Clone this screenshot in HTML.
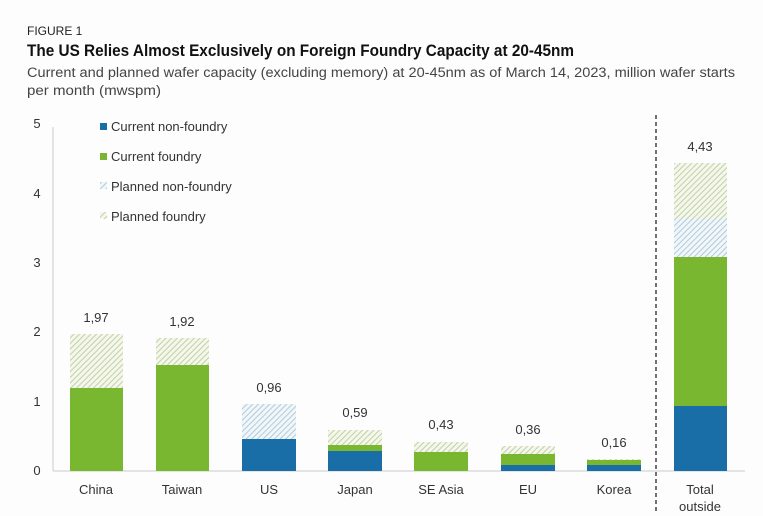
<!DOCTYPE html>
<html><head><meta charset="utf-8"><style>
body{margin:0;background:#fdfdfd;}
svg{display:block;font-family:"Liberation Sans",sans-serif;}
</style></head><body>
<svg width="763" height="516" viewBox="0 0 763 516">
<defs>
<pattern id="hg" width="4" height="4" patternUnits="userSpaceOnUse" patternTransform="rotate(45)">
<rect width="4" height="4" fill="#f4f7ec"/><line x1="0" y1="0" x2="0" y2="4" stroke="#bccb9c" stroke-width="1.8"/></pattern>
<pattern id="hb" width="4" height="4" patternUnits="userSpaceOnUse" patternTransform="rotate(45)">
<rect width="4" height="4" fill="#f1f6f9"/><line x1="0" y1="0" x2="0" y2="4" stroke="#a9c5d8" stroke-width="1.8"/></pattern>
</defs>
<rect width="763" height="516" fill="#fdfdfd"/>
<text x="27" y="35" font-size="12" fill="#222">FIGURE 1</text>
<text x="27" y="56" font-size="17" font-weight="bold" fill="#111" textLength="547" lengthAdjust="spacingAndGlyphs">The US Relies Almost Exclusively on Foreign Foundry Capacity at 20-45nm</text>
<text x="27" y="77" font-size="13.5" fill="#444" textLength="708" lengthAdjust="spacingAndGlyphs">Current and planned wafer capacity (excluding memory) at 20-45nm as of March 14, 2023, million wafer starts</text>
<text x="27" y="95" font-size="13.5" fill="#444" textLength="134" lengthAdjust="spacingAndGlyphs">per month (mwspm)</text>
<g font-size="13" fill="#333" text-anchor="middle">
<text x="37" y="128">5</text><text x="37" y="198">4</text><text x="37" y="267">3</text><text x="37" y="336">2</text><text x="37" y="406">1</text><text x="37" y="475">0</text>
</g>
<line x1="53" y1="127" x2="53" y2="471" stroke="#ccc"/>
<line x1="53" y1="471" x2="745" y2="471" stroke="#ccc"/>
<line x1="656" y1="115" x2="656" y2="514" stroke="#444" stroke-width="1.5" stroke-dasharray="4,3"/>
<g font-size="13" fill="#333">
<rect x="100" y="123" width="7" height="7" fill="#1a6ea8"/><text x="111" y="131">Current non-foundry</text>
<rect x="100" y="153" width="7" height="7" fill="#7ab730"/><text x="111" y="161">Current foundry</text>
<rect x="100" y="182" width="7" height="7" fill="url(#hb)"/><text x="111" y="191">Planned non-foundry</text>
<rect x="100" y="212" width="7" height="7" fill="url(#hg)"/><text x="111" y="221">Planned foundry</text>
</g>
<rect x="70" y="334" width="53" height="54" fill="url(#hg)"/><rect x="70" y="388" width="53" height="83" fill="#7ab730"/>
<rect x="156" y="338" width="53" height="27" fill="url(#hg)"/><rect x="156" y="365" width="53" height="106" fill="#7ab730"/>
<rect x="242" y="404" width="54" height="35" fill="url(#hb)"/><rect x="242" y="439" width="54" height="32" fill="#1a6ea8"/>
<rect x="328" y="430" width="54" height="15" fill="url(#hg)"/><rect x="328" y="445" width="54" height="6" fill="#7ab730"/><rect x="328" y="451" width="54" height="20" fill="#1a6ea8"/>
<rect x="414" y="442" width="54" height="10" fill="url(#hg)"/><rect x="414" y="452" width="54" height="19" fill="#7ab730"/>
<rect x="501" y="446" width="54" height="8" fill="url(#hg)"/><rect x="501" y="454" width="54" height="11" fill="#7ab730"/><rect x="501" y="465" width="54" height="6" fill="#1a6ea8"/>
<rect x="587" y="459" width="54" height="1.5" fill="url(#hg)"/><rect x="587" y="460" width="54" height="5" fill="#7ab730"/><rect x="587" y="465" width="54" height="6" fill="#1a6ea8"/>
<rect x="674" y="163" width="53" height="55" fill="url(#hg)"/><rect x="674" y="218" width="53" height="39" fill="url(#hb)"/><rect x="674" y="257" width="53" height="149" fill="#7ab730"/><rect x="674" y="406" width="53" height="65" fill="#1a6ea8"/>
<g font-size="13" fill="#333" text-anchor="middle">
<text x="96" y="322">1,97</text><text x="182" y="326">1,92</text><text x="269" y="392">0,96</text><text x="355" y="417">0,59</text><text x="441" y="429">0,43</text><text x="528" y="434">0,36</text><text x="614" y="447">0,16</text><text x="700" y="151">4,43</text>
<text x="96" y="494">China</text><text x="182" y="494">Taiwan</text><text x="269" y="494">US</text><text x="355" y="494">Japan</text><text x="441" y="494">SE Asia</text><text x="528" y="494">EU</text><text x="614" y="494">Korea</text><text x="700" y="494">Total</text><text x="700" y="511">outside</text>
</g>
</svg>
</body></html>
